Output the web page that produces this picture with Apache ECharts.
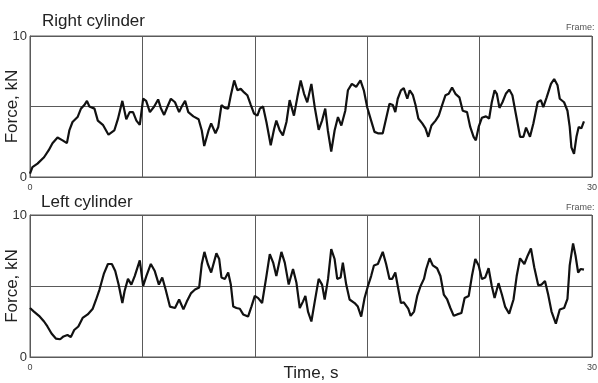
<!DOCTYPE html>
<html>
<head>
<meta charset="utf-8">
<script src="https://cdn.jsdelivr.net/npm/echarts@6/dist/echarts.min.js"></script>
<style>
  html, body { margin: 0; padding: 0; background: #fff; }
  #chart { width: 598px; height: 383px; }
</style>
</head>
<body>
<div id="chart"></div>
<script>
// time (s) and force (kN)
var rightT = [0, 0.13, 0.4, 0.75, 1.0, 1.2, 1.47, 1.74, 1.97, 2.1, 2.27, 2.54, 2.72, 2.9, 3.04, 3.17, 3.44, 3.62, 3.89, 4.19,
  4.5, 4.69, 4.93, 5.14, 5.32, 5.5, 5.68, 5.86, 6.04, 6.2, 6.4, 6.63, 6.84, 6.98, 7.16, 7.34, 7.52, 7.74, 7.96, 8.1,
  8.28, 8.45, 8.72, 9.0, 9.17, 9.3, 9.53, 9.67, 9.9, 10.05, 10.22, 10.4, 10.58, 10.72, 10.9, 11.07, 11.25, 11.43, 11.6, 11.79,
  11.96, 12.14, 12.27, 12.44, 12.62, 12.85, 13.03, 13.15, 13.33, 13.5, 13.69, 13.86, 14.09, 14.27, 14.45, 14.63, 14.8, 15.02, 15.2, 15.41,
  15.59, 15.76, 15.9, 16.08, 16.26, 16.44, 16.62, 16.83, 16.97, 17.18, 17.41, 17.64, 17.82, 18.0, 18.21, 18.39, 18.57, 18.83, 19.01, 19.19,
  19.37, 19.5, 19.63, 19.8, 19.95, 20.14, 20.27, 20.44, 20.58, 20.73, 20.94, 21.11, 21.26, 21.43, 21.65, 21.82, 22.0, 22.18, 22.35, 22.53,
  22.71, 22.92, 23.1, 23.33, 23.5, 23.68, 23.8, 23.95, 24.12, 24.34, 24.51, 24.65, 24.8, 24.92, 25.06, 25.22, 25.4, 25.58, 25.75, 25.93,
  26.16, 26.34, 26.48, 26.69, 26.87, 27.1, 27.27, 27.4, 27.58, 27.81, 27.98, 28.16, 28.28, 28.51, 28.69, 28.81, 28.9, 29.04, 29.17, 29.29,
  29.43, 29.57];
var rightF = [0.24, 0.7, 0.95, 1.4, 1.9, 2.4, 2.8, 2.6, 2.4, 3.3, 3.9, 4.25, 4.85, 5.1, 5.4, 5.0, 4.85, 4.0, 3.7, 3.0,
  3.3, 4.1, 5.4, 4.1, 4.6, 4.6, 4.0, 3.7, 5.55, 5.4, 4.6, 5.0, 5.5, 4.9, 4.4, 5.0, 5.55, 5.3, 4.6, 5.0,
  5.4, 4.6, 4.3, 4.1, 3.3, 2.2, 3.3, 3.8, 3.1, 3.55, 5.1, 4.9, 4.85, 5.8, 6.85, 6.15, 6.25, 6.0, 5.8, 5.1,
  4.5, 4.35, 4.85, 5.0, 3.9, 2.25, 3.4, 4.0, 3.3, 2.95, 3.9, 5.45, 4.35, 5.65, 6.85, 5.9, 5.3, 6.6, 4.95, 3.35,
  4.0, 4.85, 3.3, 1.8, 3.3, 4.25, 3.65, 4.7, 6.15, 6.6, 6.4, 6.85, 6.15, 4.95, 4.0, 3.2, 3.1, 3.1, 4.15, 5.2,
  5.1, 4.6, 5.55, 6.15, 6.3, 5.55, 6.15, 5.8, 5.1, 4.15, 3.8, 3.45, 2.85, 3.65, 4.0, 4.35, 5.1, 5.8, 5.9, 6.35,
  5.9, 5.65, 4.7, 4.6, 3.55, 2.85, 2.6, 3.55, 4.2, 4.3, 4.15, 5.3, 6.15, 5.9, 4.9, 5.3, 5.9, 6.2, 5.8, 4.5,
  2.85, 2.85, 3.5, 2.85, 3.8, 5.3, 5.45, 4.95, 5.65, 6.6, 6.95, 6.5, 5.55, 5.3, 4.7, 3.55, 2.1, 1.65, 2.85, 3.55,
  3.45, 3.95];

var leftT = [0, 0.21, 0.48, 0.75, 0.93, 1.15, 1.38, 1.61, 1.79, 2.0, 2.18, 2.36, 2.58, 2.81, 3.08, 3.35, 3.53, 3.71, 3.94, 4.16,
  4.37, 4.55, 4.73, 4.93, 5.05, 5.23, 5.41, 5.59, 5.86, 6.04, 6.21, 6.45, 6.66, 6.88, 7.06, 7.24, 7.47, 7.74, 7.96, 8.19,
  8.37, 8.6, 8.81, 9.03, 9.17, 9.31, 9.49, 9.67, 9.95, 10.1, 10.22, 10.4, 10.58, 10.72, 10.85, 11.02, 11.2, 11.38, 11.64, 11.82,
  12.0, 12.18, 12.39, 12.62, 12.8, 12.98, 13.15, 13.42, 13.6, 13.81, 14.04, 14.22, 14.4, 14.57, 14.7, 14.84, 15.02, 15.2, 15.41, 15.59,
  15.73, 15.91, 16.08, 16.26, 16.4, 16.58, 16.7, 16.88, 17.06, 17.33, 17.5, 17.68, 17.86, 18.04, 18.21, 18.36, 18.57, 18.83, 19.01, 19.19,
  19.33, 19.5, 19.63, 19.8, 19.95, 20.19, 20.32, 20.5, 20.67, 20.85, 21.03, 21.15, 21.33, 21.5, 21.73, 21.91, 22.09, 22.27, 22.44, 22.62,
  22.8, 23.03, 23.2, 23.42, 23.59, 23.77, 23.95, 24.12, 24.3, 24.48, 24.65, 24.8, 25.01, 25.19, 25.36, 25.58, 25.81, 25.98, 26.16, 26.39,
  26.57, 26.74, 26.92, 27.13, 27.31, 27.49, 27.66, 27.84, 28.07, 28.28, 28.51, 28.69, 28.81, 28.99, 29.12, 29.26, 29.4, 29.57];
var leftF = [3.45, 3.2, 2.9, 2.5, 2.15, 1.65, 1.3, 1.25, 1.45, 1.55, 1.4, 1.9, 2.15, 2.75, 3.0, 3.4, 4.05, 4.75, 5.85, 6.55,
  6.55, 6.05, 5.1, 3.8, 4.65, 5.5, 5.1, 5.7, 6.8, 5.0, 5.7, 6.55, 6.05, 5.1, 5.6, 4.75, 3.55, 3.45, 4.05, 3.35,
  3.9, 4.5, 4.75, 4.9, 6.55, 7.4, 6.55, 5.95, 7.3, 6.9, 5.6, 5.5, 5.95, 5.1, 3.55, 3.45, 3.4, 3.0, 2.85, 3.55,
  4.3, 4.15, 3.8, 5.7, 7.25, 6.65, 5.7, 7.4, 6.65, 5.1, 6.2, 5.25, 3.45, 3.9, 4.3, 3.2, 2.5, 3.9, 5.5, 5.1,
  4.05, 5.5, 7.6, 6.9, 5.5, 5.6, 6.65, 5.1, 4.05, 3.8, 3.55, 2.85, 4.15, 5.0, 5.7, 6.45, 6.55, 7.4, 6.55, 5.5,
  5.5, 5.95, 5.0, 3.8, 3.85, 3.4, 2.9, 3.2, 4.3, 5.0, 5.5, 6.2, 6.95, 6.45, 6.25, 5.7, 4.4, 4.05, 3.45, 2.9,
  3.0, 3.1, 4.15, 4.3, 5.7, 6.9, 6.45, 5.5, 5.6, 6.25, 5.0, 4.15, 5.2, 4.4, 3.55, 3.05, 4.05, 5.7, 6.95, 6.55,
  7.15, 7.65, 6.3, 5.05, 5.1, 5.35, 4.4, 3.2, 2.35, 3.35, 3.45, 4.1, 6.45, 8.0, 7.15, 5.95, 6.2, 6.15];

var xTicks = [0, 30];
var yTicks = [0, 10];

function pairs(t, f) {
  var out = [];
  for (var i = 0; i < t.length; i++) out.push([t[i], f[i]]);
  return out;
}

var FONT = 'Liberation Sans, Arial, sans-serif';
var gridColor = '#5a5a5a';

function xAxisFor(idx, withName) {
  var ax = {
    gridIndex: idx, type: 'value', min: 0, max: 30, interval: 6,
    axisLine: { show: true, lineStyle: { color: gridColor, width: 1 } },
    axisTick: { show: false },
    splitLine: { show: true, lineStyle: { color: gridColor, width: 1 } },
    axisLabel: {
      show: true, showMinLabel: true, showMaxLabel: true, margin: 6,
      fontSize: 9, color: '#444', fontFamily: FONT,
      formatter: function (v) { return xTicks.indexOf(v) >= 0 ? String(v) : ''; }
    }
  };
  if (withName) {
    ax.name = 'Time, s';
    ax.nameLocation = 'middle';
    ax.nameGap = 8;
    ax.nameMoveOverlap = false;
    ax.nameTextStyle = { fontSize: 17, color: '#222', fontFamily: FONT };
  }
  return ax;
}

function yAxisFor(idx) {
  return {
    gridIndex: idx, type: 'value', min: 0, max: 10, interval: 5,
    name: 'Force, kN', nameLocation: 'middle', nameGap: 9, nameMoveOverlap: false,
    nameTextStyle: { fontSize: 17, color: '#222', fontFamily: FONT },
    axisLine: { show: true, lineStyle: { color: gridColor, width: 1 } },
    axisTick: { show: false },
    splitLine: { show: true, lineStyle: { color: gridColor, width: 1 } },
    axisLabel: {
      margin: 3, fontSize: 13, color: '#333', fontFamily: FONT,
      formatter: function (v) { return yTicks.indexOf(v) >= 0 ? String(v) : ''; }
    }
  };
}

var option = {
  animation: false,
  backgroundColor: '#fff',
  title: [
    { text: 'Right cylinder', left: 37, top: 8, textStyle: { fontSize: 17, fontWeight: 'normal', color: '#222', fontFamily: FONT } },
    { text: 'Left cylinder', left: 36, top: 189, textStyle: { fontSize: 17, fontWeight: 'normal', color: '#222', fontFamily: FONT } }
  ],
  grid: [
    { left: 30, right: 6, top: 36, height: 141, show: true, borderColor: gridColor, borderWidth: 1,
      containLabel: false, outerBoundsMode: 'none' },
    { left: 30, right: 6, top: 215, height: 142, show: true, borderColor: gridColor, borderWidth: 1,
      containLabel: false, outerBoundsMode: 'none' }
  ],
  xAxis: [xAxisFor(0, false), xAxisFor(1, true)],
  yAxis: [yAxisFor(0), yAxisFor(1)],
  graphic: [
    { type: 'text', left: 566, top: 23, style: { text: 'Frame:', fontSize: 9, fill: '#555', fontFamily: FONT } },
    { type: 'text', left: 566, top: 203, style: { text: 'Frame:', fontSize: 9, fill: '#555', fontFamily: FONT } }
  ],
  series: [
    {
      name: 'Right cylinder', type: 'line', xAxisIndex: 0, yAxisIndex: 0,
      data: pairs(rightT, rightF), showSymbol: false,
      lineStyle: { color: '#111', width: 2.2 }
    },
    {
      name: 'Left cylinder', type: 'line', xAxisIndex: 1, yAxisIndex: 1,
      data: pairs(leftT, leftF), showSymbol: false,
      lineStyle: { color: '#111', width: 2.2 }
    }
  ]
};

var myChart = echarts.init(document.getElementById('chart'));
myChart.setOption(option);
</script>
</body>
</html>
